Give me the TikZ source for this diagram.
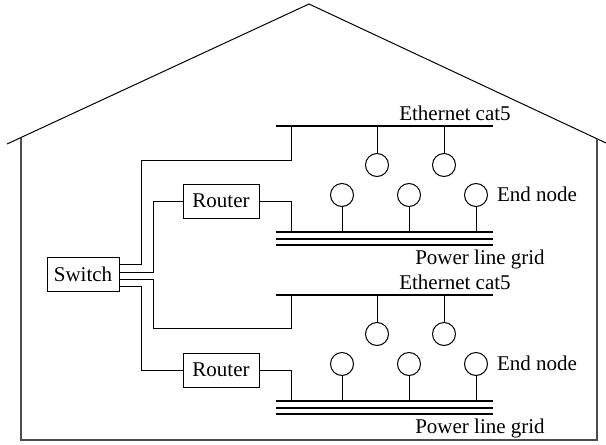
\documentclass[tikz,border=0pt]{standalone}
\usepackage{fontspec}
\setmainfont{Liberation Serif}
\usetikzlibrary{positioning}

\begin{document}
\begin{tikzpicture}[x=1pt, y=-1pt, font=\fontsize{21}{23}\selectfont,
    box/.style={draw, line width=1pt, minimum width=72pt, minimum height=34pt, inner sep=0pt},
    endnode/.style={draw, circle, line width=1pt, minimum size=23pt, inner sep=0pt},
    wire/.style={line width=1pt},
    bus/.style={line width=2pt}]

      \useasboundingbox (0,0) rectangle (606,445);

      \draw [line width=1pt] (7,144) -- (309,4) -- (606,143);
      \draw [line width=1.3pt, black!70] (21,137.5) -- (21,440) -- (597,440) -- (597,139);

      \node [box] (switch) at (83,274) {Switch};

      \foreach \n/\dy in {1/0, 2/169} {
        \node [box, minimum width=76pt] (router\n) at (221,201+\dy) {Router};
        \coordinate (eth\n) at (276,126+\dy);
        \coordinate (ethtap\n) at (291,126+\dy);
        \coordinate (grid\n) at (276,232+\dy);
        \coordinate (gridtap\n) at (291,232+\dy);
        \draw [bus] (eth\n) -- ++(217,0);
        \foreach \g in {0,6.5,13}
          \draw [bus] ([yshift=-\g pt]grid\n) -- ++(217,0);
        \draw [wire] (router\n.east) -| (gridtap\n);
        \foreach \x in {377,444} {
          \node [endnode] (eth\n-\x) at (\x,165+\dy) {};
          \draw [wire] (eth\n-\x) -- (eth\n-\x |- eth\n);
        }
        \foreach \x in {342,409,476} {
          \node [endnode] (pl\n-\x) at (\x,195+\dy) {};
          \draw [wire] (pl\n-\x) -- (pl\n-\x |- grid\n);
        }
        \node (ethlabel\n) at (455,113+\dy) {Ethernet cat5};
        \node (endlabel\n) at (537,194+\dy) {End node};
        \node (gridlabel\n) at (480,259+\dy) {Power line grid};
      }

      \draw [wire] ([yshift=10pt]switch.east) -- ++(22,0) -- ++(0,-104) -| (ethtap1);
      \draw [wire] ([yshift=2pt]switch.east) -- ++(34,0) |- (router1.west);
      \draw [wire] ([yshift=-5pt]switch.east) -- ++(34,0) -- ++(0,49) -| (ethtap2);
      \draw [wire] ([yshift=-12pt]switch.east) -- ++(22,0) |- (router2.west);

    \end{tikzpicture}
\end{document}
